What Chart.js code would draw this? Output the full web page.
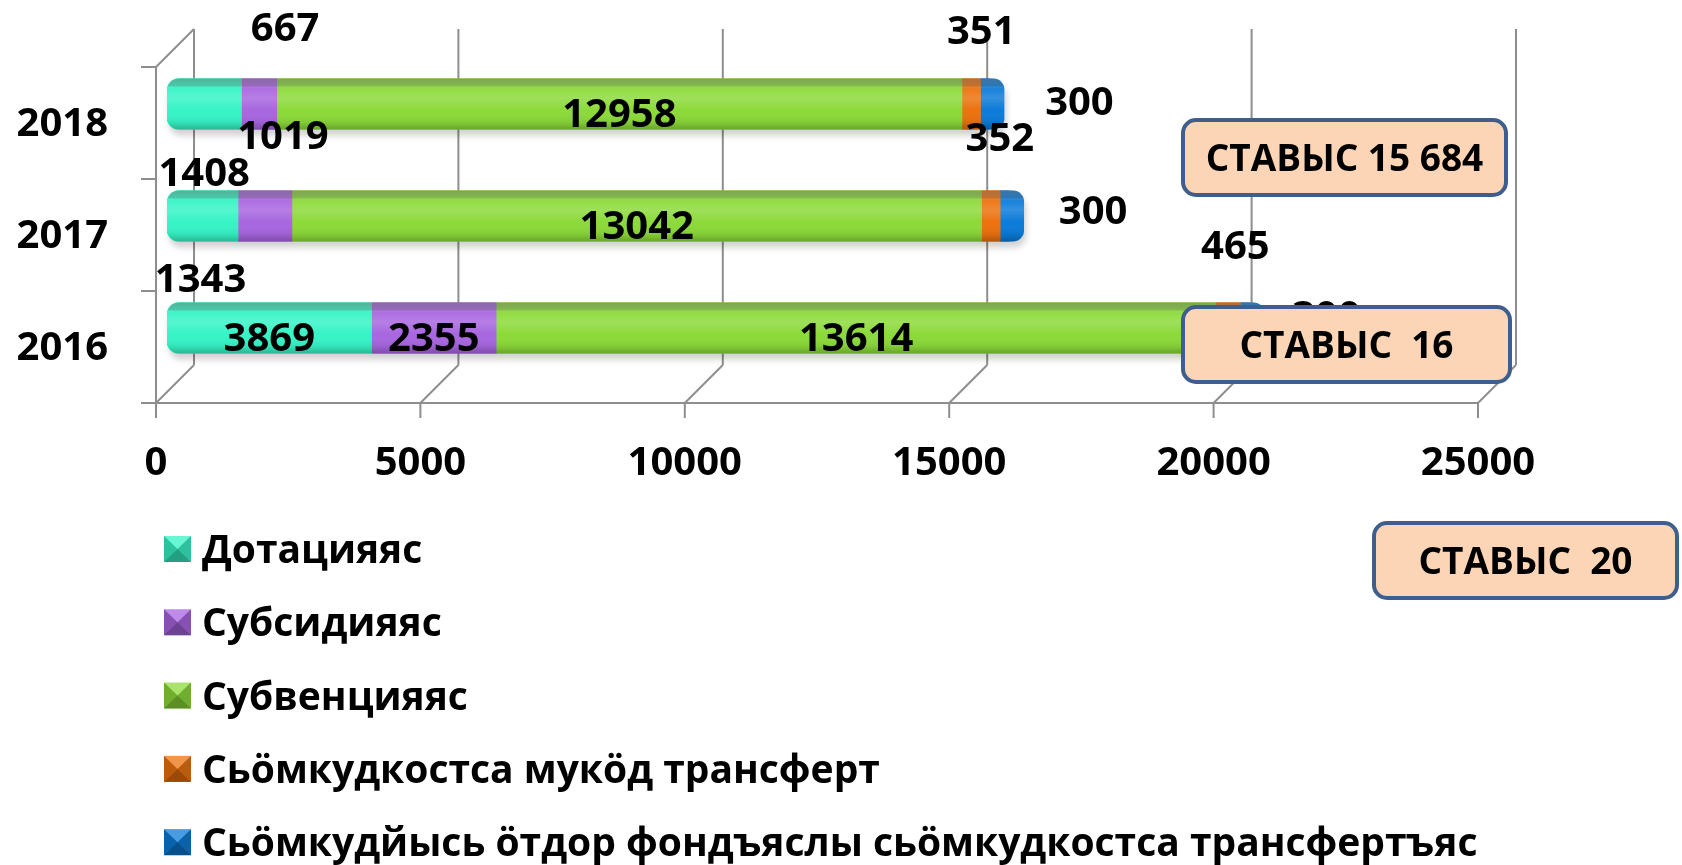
<!DOCTYPE html>
<html>
<head>
<meta charset="utf-8">
<script src="https://cdn.jsdelivr.net/npm/chart.js@4.4.1/dist/chart.umd.min.js"></script>
<style>
  html, body { margin: 0; padding: 0; background: #fff; }
  #wrap { width: 1682px; height: 865px; }
</style>
</head>
<body>
<div id="wrap"><canvas id="transfersChart" width="1682" height="865"></canvas></div>
<script>
// --- data ---
const years = ['2018', '2017', '2016'];
const seriesNames = [
    'Дотацияяс',
    'Субсидияяс',
    'Субвенцияяс',
    'Сьӧмкудкостса мукӧд трансферт',
    'Сьӧмкудйысь ӧтдор фондъяслы сьӧмкудкостса трансфертъяс'
];
const dotatsiyas = [1408, 1343, 3869];
const subsidiyas = [667, 1019, 2355];
const subventsiyas = [12958, 13042, 13614];
const mukodTransfert = [351, 352, 465];
const fondTransfert = [300, 300, 300];
const xTicks = [0, 5000, 10000, 15000, 20000, 25000];
const totalTexts = ['СТАВЫС 15 684', 'СТАВЫС  16', 'СТАВЫС  20'];

// --- styling ---
const fontFamily = "'Open Sans', 'Noto Sans', sans-serif";
const seriesColors = ['#36F4C6', '#A866E0', '#8CDA3A', '#EC720E', '#0C7BD8'];
const gridColor = '#8e8e8e';
const frameFront = [-11, 19];
const frameBack = [27, -19];
const capDepth = 8;
// label shift from segment centre, per series then per year
const labelShift = [
    [[0, 68], [-2, 62], [0, 9]],
    [[26, -77], [18, -81], [0, 9]],
    [[0, 9], [0, 9], [0, 9]],
    [[10, -74], [9, -79], [7, -83]],
    [[91, -3], [85, -6], [78, -13]]
];
const legendLayout = { top: 549, step: 73.3, boxX: 164, boxW: 27, boxH: 26, textX: 202 };
const totalBoxes = [
    { x: 1183, y: 120, w: 323, h: 75 },
    { x: 1183, y: 307, w: 327, h: 75 },
    { x: 1374, y: 523, w: 303, h: 75 }
];

Chart.defaults.font.family = fontFamily;
Chart.defaults.font.weight = 'bold';
Chart.defaults.color = '#000';

const wallFrame = {
    id: 'wallFrame',
    beforeDatasetsDraw(chart) {
        const { ctx, chartArea: ca, scales: { x } } = chart;
        const [fx, fy] = frameFront;
        const [bx, by] = frameBack;
        const x0 = x.getPixelForValue(xTicks[0]);
        const xEnd = x.getPixelForValue(xTicks[xTicks.length - 1]);
        ctx.save();
        ctx.strokeStyle = gridColor;
        ctx.lineWidth = 2;
        ctx.beginPath();
        xTicks.forEach(v => {
            const p = x.getPixelForValue(v);
            ctx.moveTo(p + bx, ca.top + by);
            ctx.lineTo(p + bx, ca.bottom + by);
            ctx.moveTo(p + fx, ca.bottom + fy);
            ctx.lineTo(p + bx, ca.bottom + by);
            ctx.moveTo(p + fx, ca.bottom + fy);
            ctx.lineTo(p + fx, ca.bottom + fy + 15);
        });
        ctx.moveTo(x0 + fx - 15, ca.bottom + fy);
        ctx.lineTo(xEnd + fx, ca.bottom + fy);
        ctx.moveTo(x0 + fx, ca.top + fy);
        ctx.lineTo(x0 + fx, ca.bottom + fy);
        ctx.moveTo(x0 + fx, ca.top + fy);
        ctx.lineTo(x0 + bx, ca.top + by);
        const band = (ca.bottom - ca.top) / years.length;
        for (let k = 0; k <= years.length; k++) {
            const yb = ca.top + k * band + fy;
            ctx.moveTo(x0 + fx - 15, yb);
            ctx.lineTo(x0 + fx, yb);
        }
        ctx.stroke();
        ctx.restore();
    }
};

function stackExtents(chart) {
    const metas = chart.data.datasets.map((_, d) => chart.getDatasetMeta(d));
    const last = metas[metas.length - 1];
    return years.map((_, i) => {
        const first = metas[0].data[i];
        return {
            left: first.base,
            right: last.data[i].x,
            top: first.y - first.height / 2,
            height: first.height
        };
    });
}

const barShading = {
    id: 'barShading',
    beforeDatasetsDraw(chart) {
        const { ctx } = chart;
        ctx.save();
        ctx.filter = 'blur(3px)';
        ctx.fillStyle = 'rgba(0,0,0,0.18)';
        stackExtents(chart).forEach(s => {
            ctx.beginPath();
            ctx.roundRect(s.left + 2, s.top + 6, s.right - s.left + capDepth, s.height, 12);
            ctx.fill();
        });
        ctx.restore();
    },
    afterDatasetsDraw(chart) {
        const { ctx } = chart;
        const capColor = chart.data.datasets[lastIdx].backgroundColor;
        ctx.save();
        stackExtents(chart).forEach(s => {
            // rounded end cap of the 3D bar
            ctx.beginPath();
            ctx.roundRect(s.right - 14, s.top, 14 + capDepth, s.height, 12);
            ctx.fillStyle = capColor;
            ctx.fill();
            const g = ctx.createLinearGradient(0, s.top, 0, s.top + s.height);
            g.addColorStop(0, 'rgba(110,110,110,0.5)');
            g.addColorStop(0.14, 'rgba(110,110,110,0.32)');
            g.addColorStop(0.2, 'rgba(255,255,255,0.05)');
            g.addColorStop(0.38, 'rgba(255,255,255,0.16)');
            g.addColorStop(0.62, 'rgba(255,255,255,0)');
            g.addColorStop(0.86, 'rgba(0,0,0,0.07)');
            g.addColorStop(1, 'rgba(0,0,0,0.25)');
            ctx.beginPath();
            ctx.roundRect(s.left, s.top, s.right - s.left + capDepth, s.height, 12);
            ctx.fillStyle = g;
            ctx.fill();
        });
        ctx.restore();
    }
};

const valueLabels = {
    id: 'valueLabels',
    afterDatasetsDraw(chart) {
        const { ctx } = chart;
        ctx.save();
        ctx.font = `bold 40px ${fontFamily}`;
        ctx.fillStyle = '#000';
        ctx.textAlign = 'center';
        ctx.textBaseline = 'alphabetic';
        chart.data.datasets.forEach((ds, d) => {
            chart.getDatasetMeta(d).data.forEach((el, i) => {
                const [dx, dy] = labelShift[d][i];
                const cx = (el.x + el.base) / 2 + dx;
                const cy = el.y + dy;
                ctx.fillText(String(ds.data[i]), cx, cy + 14);
            });
        });
        ctx.restore();
    }
};

function bevelSwatch(ctx, x, y, w, h, color) {
    ctx.fillStyle = color;
    ctx.fillRect(x, y, w, h);
    const cx = x + w / 2, cy = y + h / 2;
    const tri = (pts, fill) => {
        ctx.beginPath();
        ctx.moveTo(pts[0][0], pts[0][1]);
        pts.slice(1).forEach(p => ctx.lineTo(p[0], p[1]));
        ctx.closePath();
        ctx.fillStyle = fill;
        ctx.fill();
    };
    tri([[x, y], [x + w, y], [cx, cy]], 'rgba(255,255,255,0.25)');
    tri([[x, y], [cx, cy], [x, y + h]], 'rgba(0,0,0,0.2)');
    tri([[x + w, y], [cx, cy], [x + w, y + h]], 'rgba(0,0,0,0.2)');
    tri([[x, y + h], [cx, cy], [x + w, y + h]], 'rgba(0,0,0,0.35)');
}

const sideLegend = {
    id: 'sideLegend',
    afterDraw(chart) {
        const { ctx } = chart;
        const L = legendLayout;
        ctx.save();
        ctx.font = `bold 39px ${fontFamily}`;
        ctx.textAlign = 'left';
        ctx.textBaseline = 'alphabetic';
        chart.data.datasets.forEach((ds, i) => {
            const cy = L.top + i * L.step;
            bevelSwatch(ctx, L.boxX, cy - L.boxH / 2, L.boxW, L.boxH, ds.backgroundColor);
            ctx.fillStyle = '#000';
            ctx.fillText(ds.label, L.textX, cy + 14);
        });
        ctx.restore();
    }
};

const totalsBoxes = {
    id: 'totalsBoxes',
    afterDraw(chart) {
        const { ctx } = chart;
        ctx.save();
        totalBoxes.forEach((b, i) => {
            ctx.beginPath();
            ctx.roundRect(b.x, b.y, b.w, b.h, 13);
            ctx.fillStyle = '#FBD5B5';
            ctx.fill();
            ctx.lineWidth = 4;
            ctx.strokeStyle = '#3E5F8E';
            ctx.stroke();
            ctx.font = `bold 37px ${fontFamily}`;
            ctx.fillStyle = '#000';
            ctx.textAlign = 'center';
            ctx.textBaseline = 'alphabetic';
            ctx.fillText(totalTexts[i], b.x + b.w / 2, b.y + b.h / 2 + 13);
        });
        ctx.restore();
    }
};

const seriesValues = [dotatsiyas, subsidiyas, subventsiyas, mukodTransfert, fondTransfert];
const lastIdx = seriesValues.length - 1;

const datasets = seriesValues.map((vals, i) => ({
    label: seriesNames[i],
    data: vals,
    backgroundColor: seriesColors[i],
    borderWidth: 0,
    borderSkipped: false,
    borderRadius: i === 0 ? { topLeft: 12, bottomLeft: 12, topRight: 0, bottomRight: 0 }
        : i === lastIdx ? { topLeft: 0, bottomLeft: 0, topRight: 12, bottomRight: 12 } : 0,
    barThickness: 51
}));

new Chart(document.getElementById('transfersChart').getContext('2d'), {
    type: 'bar',
    data: { labels: years, datasets: datasets },
    options: {
        responsive: false,
        animation: false,
        indexAxis: 'y',
        layout: { padding: { top: 48, right: 193, left: 0, bottom: 0 } },
        plugins: {
            legend: { display: false },
            tooltip: { enabled: false }
        },
        scales: {
            x: {
                stacked: true,
                min: 0,
                max: 25000,
                afterBuildTicks: (axis) => { axis.ticks = xTicks.map(v => ({ value: v })); },
                grid: { display: false, drawTicks: false },
                border: { display: false },
                ticks: {
                    font: { size: 40, weight: 'bold' },
                    color: '#000',
                    padding: 56,
                    labelOffset: -11,
                    maxRotation: 0,
                    autoSkip: false,
                    callback: (val) => String(val)
                },
                afterFit: (axis) => {
                    axis.height = 481;
                    axis.paddingLeft = 0;
                    axis.paddingRight = 0;
                }
            },
            y: {
                stacked: true,
                grid: { display: false, drawTicks: false },
                border: { display: false },
                ticks: {
                    font: { size: 40, weight: 'bold' },
                    color: '#000',
                    padding: 59,
                    labelOffset: 21
                },
                afterFit: (axis) => {
                    axis.width = 167;
                    axis.paddingTop = 0;
                    axis.paddingBottom = 0;
                }
            }
        }
    },
    plugins: [wallFrame, barShading, valueLabels, sideLegend, totalsBoxes]
});
</script>
</body>
</html>
